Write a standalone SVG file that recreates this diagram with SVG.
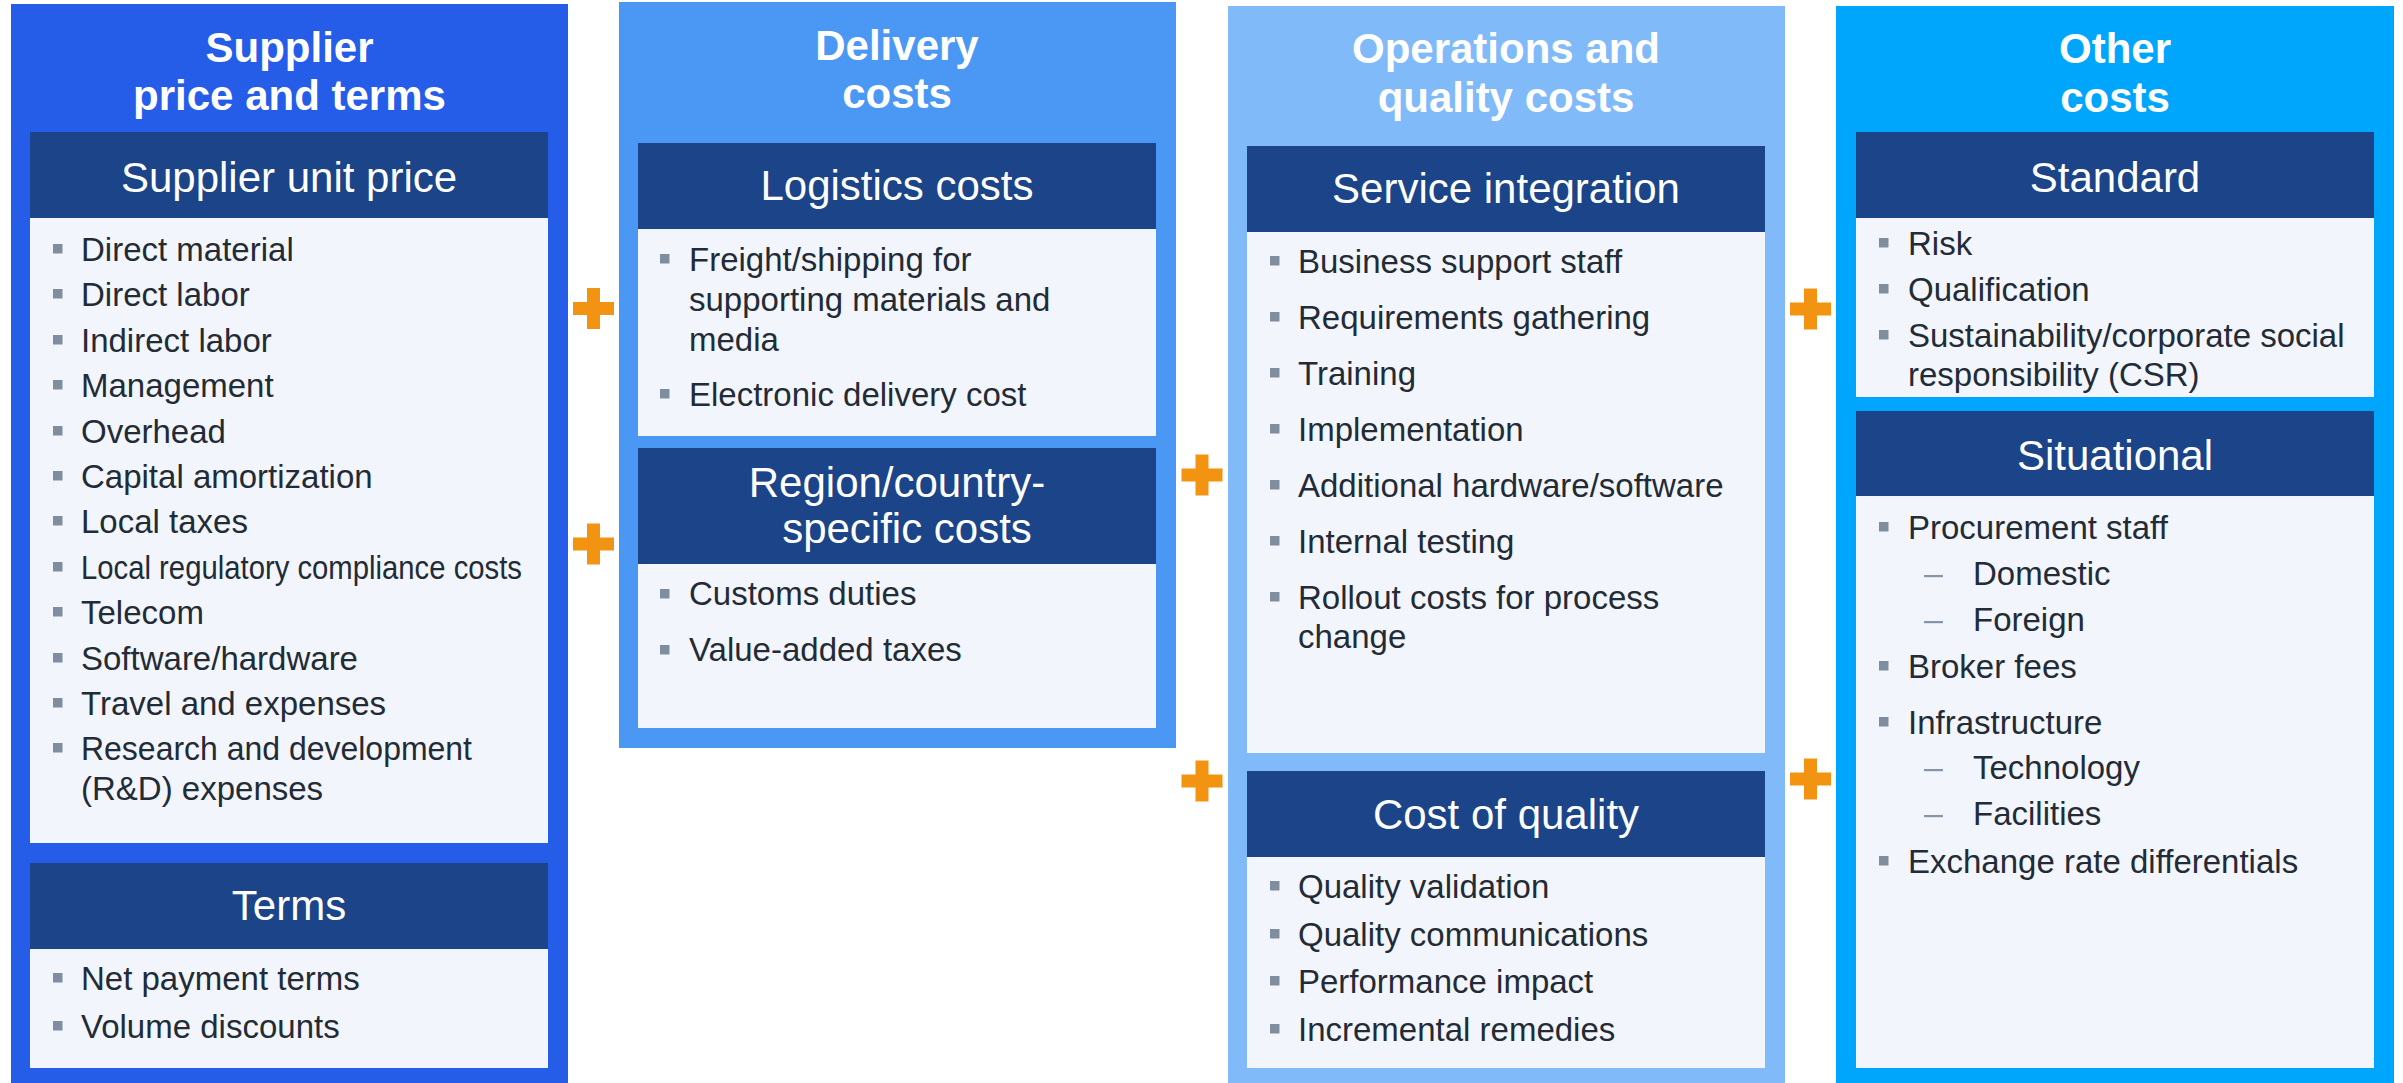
<svg xmlns="http://www.w3.org/2000/svg" xmlns:xlink="http://www.w3.org/1999/xlink" width="2403" height="1083" viewBox="0 0 2403 1083">
  <style>
    text { font-family: "Liberation Sans", Arial, Helvetica, sans-serif; }
    .title { font-size: 42px; font-weight: bold; fill: #FFFFFF; text-anchor: middle; }
    .head { fill: #1B4489; }
    .htext { font-size: 42px; fill: #FFFFFF; text-anchor: middle; }
    .body { fill: #F2F6FC; }
    .item { font-size: 33px; fill: #232B36; }
    .bullet { fill: #7E8E9F; }
    .dash { fill: #8596AA; }
    .c1 { fill: #255DE8; }
    .c2 { fill: #4B98F4; }
    .c3 { fill: #80BAF8; }
    .c4 { fill: #00A6FB; }
    .plus { fill: #F39312; }
  </style>
  <defs>
    <!-- orange plus sign, centred on its origin -->
    <path id="plus" d="M-6.5,-20.5 H6.5 V-6.5 H20.5 V6.5 H6.5 V20.5 H-6.5 V6.5 H-20.5 V-6.5 H-6.5 Z"/>
    <rect id="sq" width="9.5" height="9.5"/>
    <rect id="dsh" width="19" height="2.2"/>
  </defs>

  <rect width="2403" height="1083" fill="#FFFFFF"/>

  <!-- Column 1: supplier price and terms -->
  <g id="supplier-price-and-terms">
    <rect class="c1" x="11" y="4" width="557" height="1079"/>
    <text class="title" x="289.5" y="62">Supplier</text>
    <text class="title" x="289.5" y="110">price and terms</text>

    <g id="supplier-unit-price">
      <rect class="head" x="30" y="132" width="518" height="86"/>
      <text class="htext" x="289" y="192">Supplier unit price</text>
      <rect class="body" x="30" y="218" width="518" height="625"/>
      <g class="bullet">
        <use xlink:href="#sq" x="53" y="244"/>
        <use xlink:href="#sq" x="53" y="289"/>
        <use xlink:href="#sq" x="53" y="335"/>
        <use xlink:href="#sq" x="53" y="380"/>
        <use xlink:href="#sq" x="53" y="426"/>
        <use xlink:href="#sq" x="53" y="471"/>
        <use xlink:href="#sq" x="53" y="516"/>
        <use xlink:href="#sq" x="53" y="562"/>
        <use xlink:href="#sq" x="53" y="607"/>
        <use xlink:href="#sq" x="53" y="653"/>
        <use xlink:href="#sq" x="53" y="698"/>
        <use xlink:href="#sq" x="53" y="743"/>
      </g>
      <text class="item" x="81" y="261">Direct material</text>
      <text class="item" x="81" y="306">Direct labor</text>
      <text class="item" x="81" y="352">Indirect labor</text>
      <text class="item" x="81" y="397">Management</text>
      <text class="item" x="81" y="443">Overhead</text>
      <text class="item" x="81" y="488">Capital amortization</text>
      <text class="item" x="81" y="533">Local taxes</text>
      <text class="item" x="81" y="579" textLength="441" lengthAdjust="spacingAndGlyphs">Local regulatory compliance costs</text>
      <text class="item" x="81" y="624">Telecom</text>
      <text class="item" x="81" y="670">Software/hardware</text>
      <text class="item" x="81" y="715">Travel and expenses</text>
      <text class="item" x="81" y="760" textLength="391" lengthAdjust="spacingAndGlyphs">Research and development</text>
      <text class="item" x="81" y="800">(R&amp;D) expenses</text>
    </g>

    <g id="terms">
      <rect class="head" x="30" y="863" width="518" height="86"/>
      <text class="htext" x="289" y="920">Terms</text>
      <rect class="body" x="30" y="949" width="518" height="119"/>
      <g class="bullet">
        <use xlink:href="#sq" x="53" y="973"/>
        <use xlink:href="#sq" x="53" y="1021"/>
      </g>
      <text class="item" x="81" y="990">Net payment terms</text>
      <text class="item" x="81" y="1038">Volume discounts</text>
    </g>
  </g>

  <!-- Column 2: delivery costs -->
  <g id="delivery-costs">
    <rect class="c2" x="619" y="2" width="557" height="746"/>
    <text class="title" x="897" y="60">Delivery</text>
    <text class="title" x="897" y="108">costs</text>

    <g id="logistics-costs">
      <rect class="head" x="638" y="143" width="518" height="86"/>
      <text class="htext" x="897" y="200">Logistics costs</text>
      <rect class="body" x="638" y="229" width="518" height="207"/>
      <g class="bullet">
        <use xlink:href="#sq" x="660" y="254"/>
        <use xlink:href="#sq" x="660" y="389"/>
      </g>
      <text class="item" x="689" y="271">Freight/shipping for</text>
      <text class="item" x="689" y="311">supporting materials and</text>
      <text class="item" x="689" y="351">media</text>
      <text class="item" x="689" y="406">Electronic delivery cost</text>
    </g>

    <g id="region-country-specific-costs">
      <rect class="head" x="638" y="448" width="518" height="116"/>
      <text class="htext" x="897" y="497">Region/country-</text>
      <text class="htext" x="907" y="543">specific costs</text>
      <rect class="body" x="638" y="564" width="518" height="164"/>
      <g class="bullet">
        <use xlink:href="#sq" x="660" y="589"/>
        <use xlink:href="#sq" x="660" y="645"/>
      </g>
      <text class="item" x="689" y="605">Customs duties</text>
      <text class="item" x="689" y="661">Value-added taxes</text>
    </g>
  </g>

  <!-- Column 3: operations and quality costs -->
  <g id="operations-and-quality-costs">
    <rect class="c3" x="1228" y="6" width="557" height="1077"/>
    <text class="title" x="1506" y="63">Operations and</text>
    <text class="title" x="1506" y="112">quality costs</text>

    <g id="service-integration">
      <rect class="head" x="1247" y="146" width="518" height="86"/>
      <text class="htext" x="1506" y="203">Service integration</text>
      <rect class="body" x="1247" y="232" width="518" height="521"/>
      <g class="bullet">
        <use xlink:href="#sq" x="1270" y="256"/>
        <use xlink:href="#sq" x="1270" y="312"/>
        <use xlink:href="#sq" x="1270" y="368"/>
        <use xlink:href="#sq" x="1270" y="424"/>
        <use xlink:href="#sq" x="1270" y="480"/>
        <use xlink:href="#sq" x="1270" y="536"/>
        <use xlink:href="#sq" x="1270" y="592"/>
      </g>
      <text class="item" x="1298" y="273">Business support staff</text>
      <text class="item" x="1298" y="329">Requirements gathering</text>
      <text class="item" x="1298" y="385">Training</text>
      <text class="item" x="1298" y="441">Implementation</text>
      <text class="item" x="1298" y="497">Additional hardware/software</text>
      <text class="item" x="1298" y="553">Internal testing</text>
      <text class="item" x="1298" y="609">Rollout costs for process</text>
      <text class="item" x="1298" y="648">change</text>
    </g>

    <g id="cost-of-quality">
      <rect class="head" x="1247" y="771" width="518" height="86"/>
      <text class="htext" x="1506" y="829">Cost of quality</text>
      <rect class="body" x="1247" y="857" width="518" height="211"/>
      <g class="bullet">
        <use xlink:href="#sq" x="1270" y="881"/>
        <use xlink:href="#sq" x="1270" y="929"/>
        <use xlink:href="#sq" x="1270" y="976"/>
        <use xlink:href="#sq" x="1270" y="1024"/>
      </g>
      <text class="item" x="1298" y="898">Quality validation</text>
      <text class="item" x="1298" y="946">Quality communications</text>
      <text class="item" x="1298" y="993">Performance impact</text>
      <text class="item" x="1298" y="1041">Incremental remedies</text>
    </g>
  </g>

  <!-- Column 4: other costs -->
  <g id="other-costs">
    <rect class="c4" x="1836" y="6" width="558" height="1077"/>
    <text class="title" x="2115" y="63">Other</text>
    <text class="title" x="2115" y="112">costs</text>

    <g id="standard">
      <rect class="head" x="1856" y="132" width="518" height="86"/>
      <text class="htext" x="2115" y="192">Standard</text>
      <rect class="body" x="1856" y="218" width="518" height="179"/>
      <g class="bullet">
        <use xlink:href="#sq" x="1879" y="238"/>
        <use xlink:href="#sq" x="1879" y="284"/>
        <use xlink:href="#sq" x="1879" y="330"/>
      </g>
      <text class="item" x="1908" y="255">Risk</text>
      <text class="item" x="1908" y="301">Qualification</text>
      <text class="item" x="1908" y="347">Sustainability/corporate social</text>
      <text class="item" x="1908" y="386">responsibility (CSR)</text>
    </g>

    <g id="situational">
      <rect class="head" x="1856" y="411" width="518" height="85"/>
      <text class="htext" x="2115" y="470">Situational</text>
      <rect class="body" x="1856" y="496" width="518" height="572"/>
      <g class="bullet">
        <use xlink:href="#sq" x="1879" y="522"/>
        <use xlink:href="#sq" x="1879" y="661"/>
        <use xlink:href="#sq" x="1879" y="717"/>
        <use xlink:href="#sq" x="1879" y="856"/>
      </g>
      <g class="dash">
        <use xlink:href="#dsh" x="1924" y="575"/>
        <use xlink:href="#dsh" x="1924" y="621"/>
        <use xlink:href="#dsh" x="1924" y="769"/>
        <use xlink:href="#dsh" x="1924" y="815"/>
      </g>
      <text class="item" x="1908" y="539">Procurement staff</text>
      <text class="item" x="1973" y="585">Domestic</text>
      <text class="item" x="1973" y="631">Foreign</text>
      <text class="item" x="1908" y="678">Broker fees</text>
      <text class="item" x="1908" y="734">Infrastructure</text>
      <text class="item" x="1973" y="779">Technology</text>
      <text class="item" x="1973" y="825">Facilities</text>
      <text class="item" x="1908" y="873">Exchange rate differentials</text>
    </g>
  </g>

  <!-- plus operators between the columns -->
  <g id="connectors" class="plus">
    <use xlink:href="#plus" x="593.5" y="308.5"/>
    <use xlink:href="#plus" x="593.5" y="544"/>
    <use xlink:href="#plus" x="1202" y="475"/>
    <use xlink:href="#plus" x="1202" y="781"/>
    <use xlink:href="#plus" x="1810.5" y="309"/>
    <use xlink:href="#plus" x="1810.5" y="779"/>
  </g>
</svg>
